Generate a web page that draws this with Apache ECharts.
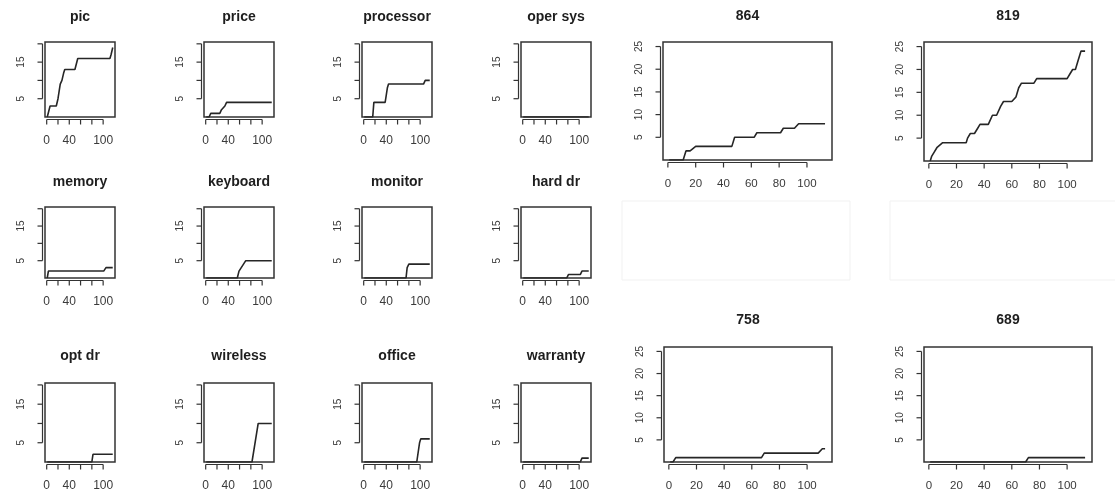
<!DOCTYPE html>
<html><head><meta charset="utf-8">
<script src="https://cdn.jsdelivr.net/npm/echarts@6/dist/echarts.min.js"></script>
<style>html,body{margin:0;padding:0;background:#fff}#c{width:1115px;height:496px}</style>
</head><body><div id="c"></div>
<script>
// ---------- data ----------
const smallTitles = ['pic','price','processor','oper sys','memory','keyboard','monitor','hard dr','opt dr','wireless','office','warranty'];
const pic       = [[1,0],[4,0],[6,3],[17,3],[20,5],[22,7],[24,9],[27,10],[30,12],[32,13],[50,13],[55,16],[112,16],[114,17],[117,19]];
const price     = [[1,0],[6,0],[9,1],[25,1],[28,2],[31,2],[34,3],[37,4],[117,4]];
const processor = [[1,0],[16,0],[18,4],[38,4],[40,6],[42,8],[44,9],[106,9],[109,10],[117,10]];
const operSys   = [[1,0],[117,0]];
const memory    = [[1,0],[3,2],[101,2],[105,3],[117,3]];
const keyboard  = [[1,0],[56,0],[59,2],[63,3],[67,4],[71,5],[117,5]];
const monitor   = [[1,0],[75,0],[77,3],[80,4],[117,4]];
const hardDr    = [[1,0],[78,0],[81,1],[102,1],[105,2],[117,2]];
const optDr     = [[1,0],[80,0],[82,2],[117,2]];
const wireless  = [[1,0],[82,0],[93,10],[117,10]];
const office    = [[1,0],[94,0],[99,5],[101,6],[117,6]];
const warranty  = [[1,0],[102,0],[105,1],[117,1]];
const smallSeries = [pic, price, processor, operSys, memory, keyboard, monitor, hardDr, optDr, wireless, office, warranty];

const bigTitles = ['864','819','758','689'];
const s864 = [[1,0],[11,0],[13,2],[16,2],[20,3],[46,3],[48,5],[62,5],[64,6],[81,6],[83,7],[91,7],[94,8],[113,8]];
const s819 = [[1,0],[2,1],[4,2],[6,3],[10,4],[27,4],[28,5],[30,6],[33,6],[35,7],[37,8],[43,8],[46,10],[49,10],[52,12],[54,13],[60,13],[63,14],[65,16],[67,17],[76,17],[78,18],[100,18],[102,19],[104,20],[106,20],[108,22],[110,24],[113,24]];
const s758 = [[1,0],[3,0],[5,1],[67,1],[69,2],[108,2],[111,3],[113,3]];
const s689 = [[1,0],[70,0],[72,1],[113,1]];
const bigSeries = [s864, s819, s758, s689];

const smallXTicks = [0,20,40,60,80,100];
const smallXLabels = [0,40,100];
const smallYTicks = [5,10,15,20];
const smallYLabels = [5,15];
const bigXTicks = [0,20,40,60,80,100];
const bigYTicks = [5,10,15,20,25];

// ---------- layout ----------
const smallLeft = [45,204,362,521], smallW = 70;
const smallTop = [42,207,383], smallH = [75,71,79];
const smallTitleY = [17,182,356];
const bigBoxes = [[663,42,169,118],[924,42,168,119],[664,347,168,115],[924,347,168,115]];
const bigTitleY = [16,16,320,320];
const AX_OFF = 2.5, TICK = 5;
const LINE = '#262626', BOX = '#333', TXT = '#3a3a3a';
const FONT = '"Liberation Sans", Arial, sans-serif';

const chart = echarts.init(document.getElementById('c'), null, {renderer:'canvas'});
const grid = [], xAxis = [], yAxis = [], series = [];
const boxes = [];

function addPanel(box, data, xr, yr, xt, xl, yt, yl, xfs) {
  const i = grid.length;
  grid.push({left:box[0], top:box[1], width:box[2], height:box[3], show:true,
    borderColor:BOX, borderWidth:1.5, backgroundColor:'transparent', containLabel:false});
  xAxis.push({type:'value', gridIndex:i, min:xr[0], max:xr[1], offset:AX_OFF,
    axisLine:{show:false}, splitLine:{show:false}, axisTick:{show:false},
    axisLabel:{show:true, customValues:xl, margin:15.5, fontSize:xfs, color:TXT, fontFamily:FONT}});
  yAxis.push({type:'value', gridIndex:i, min:yr[0], max:yr[1], offset:AX_OFF,
    axisLine:{show:false}, splitLine:{show:false}, axisTick:{show:false},
    axisLabel:{show:true, customValues:yl, rotate:90, margin:16, fontSize:10, color:TXT, fontFamily:FONT}});
  series.push({type:'line', xAxisIndex:i, yAxisIndex:i, data:data, showSymbol:false, symbol:'none',
    lineStyle:{color:LINE, width:1.6}, clip:true, animation:false, silent:true});
  boxes.push({box, xt, yt, i});
}

for (let k = 0; k < 12; k++) {
  const r = Math.floor(k/4), c = k%4;
  addPanel([smallLeft[c], smallTop[r], smallW, smallH[r]], smallSeries[k], [-3,121], [0,20.5],
    smallXTicks, smallXLabels, smallYTicks, smallYLabels, 12);
}
for (let k = 0; k < 4; k++) {
  addPanel(bigBoxes[k], bigSeries[k], [-3.5,118], [0,26], bigXTicks, bigXTicks, bigYTicks, bigYTicks, 11.5);
}

chart.setOption({animation:false, backgroundColor:'#fff', grid, xAxis, yAxis, series});

// ---------- graphics: titles, faint frames, R-style axes (line + ticks from the scales) ----------
const g = [];
function title(text, x, y) {
  g.push({type:'text', x, y, silent:true, style:{text, x:0, y:0, align:'center', verticalAlign:'middle',
    textAlign:'center', textVerticalAlign:'middle', font:'bold 14px ' + FONT, fill:'#1e1e1e'}});
}
for (let k = 0; k < 12; k++) {
  const r = Math.floor(k/4), c = k%4;
  title(smallTitles[k], smallLeft[c] + smallW/2, smallTitleY[r]);
}
for (let k = 0; k < 4; k++) {
  title(bigTitles[k], bigBoxes[k][0] + bigBoxes[k][2]/2, bigTitleY[k]);
}
g.push({type:'rect', silent:true, shape:{x:622, y:201, width:228, height:79}, style:{fill:'none', stroke:'#f1f1f1', lineWidth:1}});
g.push({type:'rect', silent:true, shape:{x:890, y:201, width:240, height:79}, style:{fill:'none', stroke:'#f1f1f1', lineWidth:1}});

function seg(x1, y1, x2, y2) {
  g.push({type:'line', silent:true, shape:{x1, y1, x2, y2}, style:{stroke:BOX, lineWidth:1.2}});
}
boxes.forEach(p => {
  const [l, t, w, h] = p.box;
  const yb = t + h + AX_OFF, xl = l - AX_OFF;
  const xs = p.xt.map(v => chart.convertToPixel({xAxisIndex:p.i}, v));
  const ys = p.yt.map(v => chart.convertToPixel({yAxisIndex:p.i}, v));
  seg(xs[0], yb, xs[xs.length-1], yb);
  xs.forEach(x => seg(x, yb, x, yb + TICK));
  seg(xl, ys[0], xl, ys[ys.length-1]);
  ys.forEach(y => seg(xl, y, xl - TICK, y));
});

chart.setOption({graphic: g});
</script>
</body></html>
